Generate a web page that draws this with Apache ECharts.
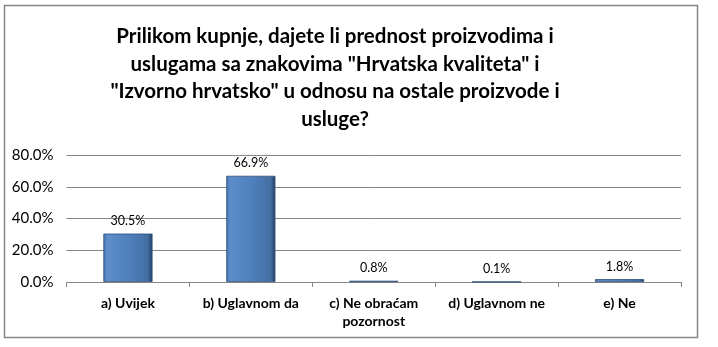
<!DOCTYPE html>
<html><head><meta charset="utf-8">
<script src="https://cdn.jsdelivr.net/npm/echarts@6/dist/echarts.min.js"></script>
<style>html,body{margin:0;padding:0;background:#fff}#c{width:718px;height:347px}</style>
</head><body><div id="c"></div>
<script>
var titleText = 'Prilikom kupnje, dajete li prednost proizvodima i\nuslugama sa znakovima "Hrvatska kvaliteta" i\n"Izvorno hrvatsko" u odnosu na ostale proizvode i\nusluge?';
var categories = ['a) Uvijek', 'b) Uglavnom da', 'c) Ne obraćam\npozornost', 'd) Uglavnom ne', 'e) Ne'];
var values = [30.5, 66.9, 0.8, 0.1, 1.8];
var yTicks = [0, 20, 40, 60, 80];

var chart = echarts.init(document.getElementById('c'), null, {renderer: 'canvas'});
chart.setOption({
  animation: false,
  backgroundColor: '#ffffff',
  graphic: [{
    type: 'rect', shape: {x: 4.5, y: 5.5, width: 693, height: 332},
    style: {fill: 'none', stroke: '#868686', lineWidth: 1.5}, z: -1
  }, {
    type: 'text', x: 335, y: 23,
    style: {text: titleText, textAlign: 'center', textVerticalAlign: 'top',
      fontFamily: 'Lato', fontWeight: 'bold', fontSize: 20.5, fill: '#000', lineHeight: 27.4}
  }],
  grid: {left: 66.5, right: 37, top: 155, bottom: 65},
  xAxis: {
    type: 'category', data: categories,
    axisLine: {lineStyle: {color: '#868686'}},
    axisTick: {show: true, length: 5, lineStyle: {color: '#868686'}},
    axisLabel: {fontFamily: 'Lato', fontWeight: 'bold', fontSize: 14, color: '#000', margin: 12, lineHeight: 18, interval: 0}
  },
  yAxis: {
    type: 'value', min: 0, max: 80, interval: 20,
    axisLine: {show: false}, axisTick: {show: false},
    splitLine: {lineStyle: {color: '#868686', width: 1}},
    axisLabel: {fontFamily: 'Lato', fontSize: 15, color: '#000', margin: 13,
      formatter: function (v) { return v.toFixed(1) + '%'; }}
  },
  series: [{
    type: 'bar', data: values, barWidth: '40%',
    itemStyle: {
      color: new echarts.graphic.LinearGradient(0, 0, 1, 0, [
        {offset: 0, color: '#4672ab'},
        {offset: 0.08, color: '#5d8ecb'},
        {offset: 0.5, color: '#4f81bd'},
        {offset: 0.9, color: '#446fa3'},
        {offset: 1, color: '#233f63'}
      ]),
      borderColor: '#2c4d78', borderWidth: 0.8
    },
    label: {
      show: true, position: 'top', distance: 6,
      fontFamily: 'Lato', fontSize: 12.5, color: '#000',
      formatter: function (p) { return p.value.toFixed(1) + '%'; }
    }
  }]
});
</script></body></html>
